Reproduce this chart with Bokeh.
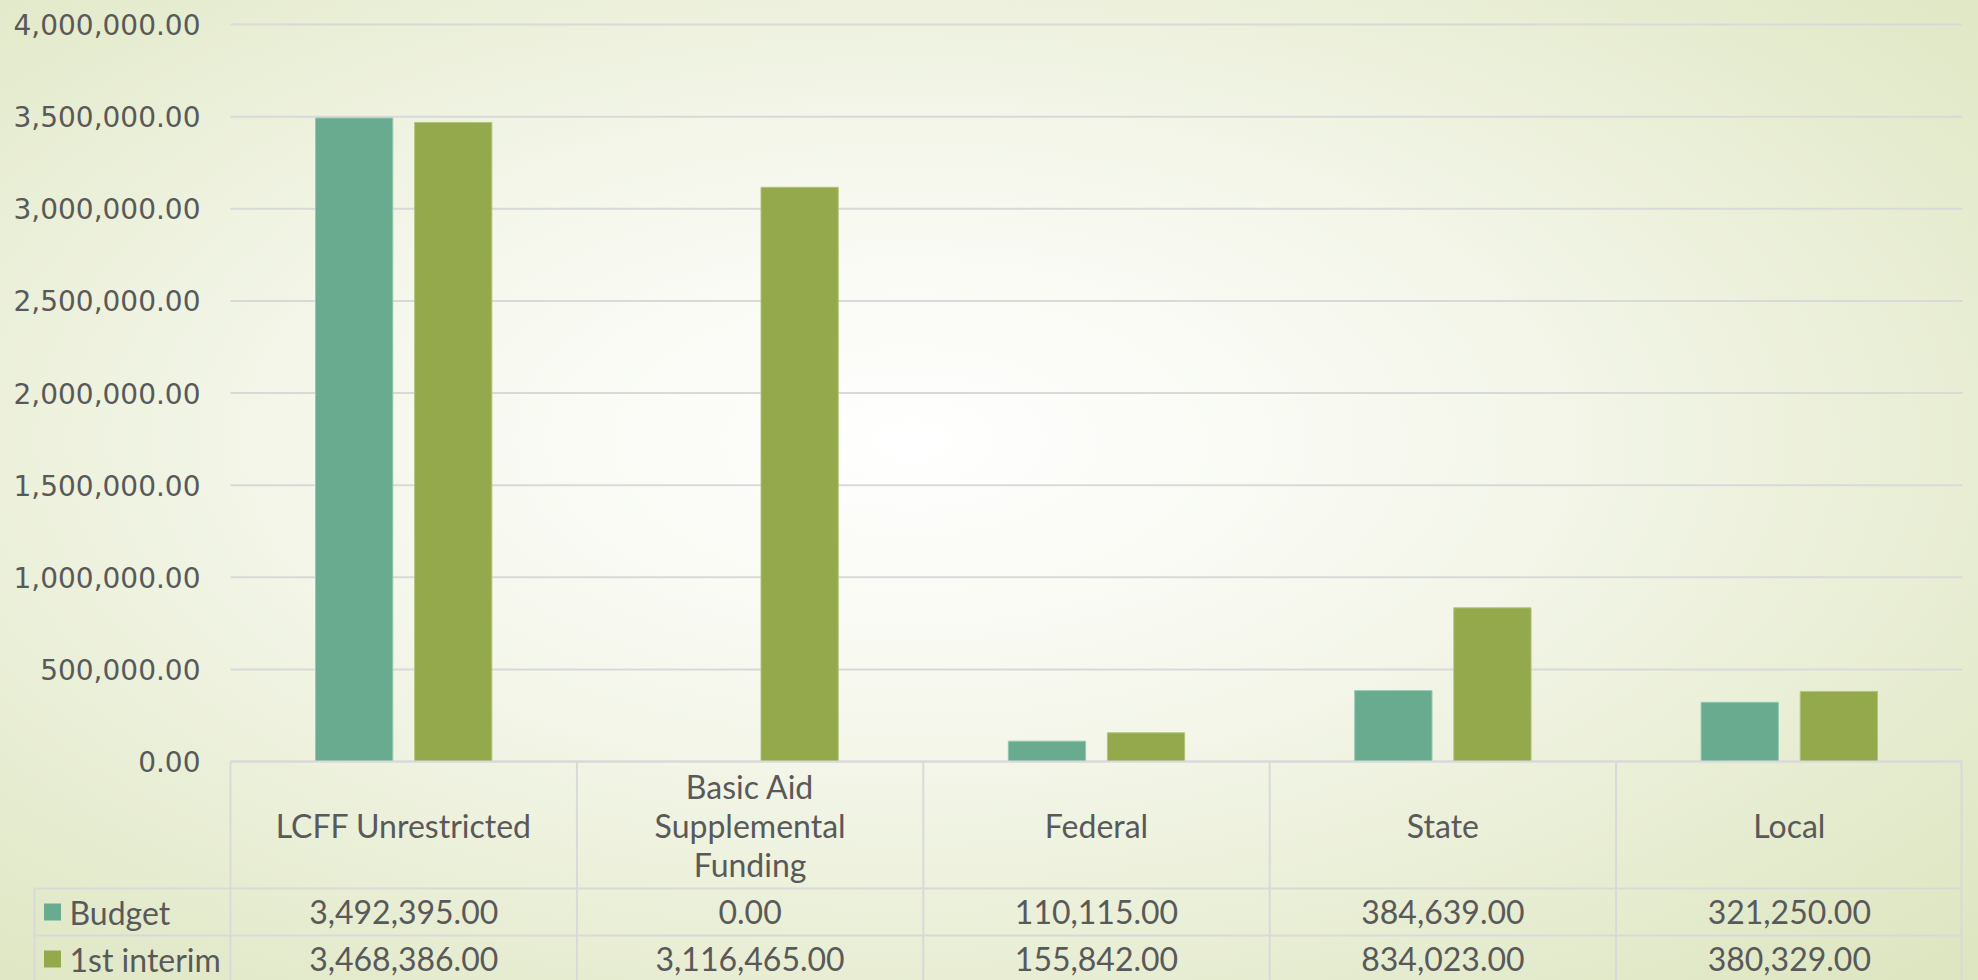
from bokeh.plotting import figure
from bokeh.layouts import column
from bokeh.models import Range1d, ColumnDataSource, NumeralTickFormatter, FixedTicker, LinearAxis
from bokeh.transform import dodge
from bokeh.core.properties import value
from bokeh.embed import file_html
from bokeh.resources import INLINE

# ---- data ----
categories = ["LCFF Unrestricted", "Basic Aid\nSupplemental\nFunding", "Federal", "State", "Local"]
series = ["Budget", "1st interim"]
budget = [3492395.00, 0.00, 110115.00, 384639.00, 321250.00]
interim = [3468386.00, 3116465.00, 155842.00, 834023.00, 380329.00]
y_ticks = [0, 500000, 1000000, 1500000, 2000000, 2500000, 3000000, 3500000, 4000000]
colors = ["#69ab8f", "#93a94c"]
edge_colors = ["#93c6b0", "#b2c47c"]

TXT = "#595959"
GRID = "#d9d9d9"
FONT = "Lato"

W, H = 1978, 980
# pixel layout of the slide
PLOT_L, PLOT_R = 230, 1962      # plot area / table category columns
LEG_L = 34                      # left edge of legend column
Y0_PX, YTOP_PX = 761, 24        # pixel rows of value 0 and of the top tick
ncat = len(categories)
unit = (PLOT_R - PLOT_L) / ncat
ymax = y_ticks[-1]
per_px = ymax / (Y0_PX - YTOP_PX)

src = ColumnDataSource(dict(xc=[i + 0.5 for i in range(ncat)], budget=budget, interim=interim))

p = figure(width=W, height=H,
           x_range=Range1d(-PLOT_L / unit, ncat + (W - PLOT_R) / unit),
           y_range=Range1d(-(H - Y0_PX) * per_px, ymax + YTOP_PX * per_px),
           output_backend="svg", toolbar_location=None,
           x_axis_location=None, y_axis_location=None,
           min_border_left=0, min_border_right=0, min_border_top=0, min_border_bottom=0,
           background_fill_color=None, border_fill_color=None, outline_line_color=None)
p.grid.visible = False

# table coordinate system: pixels below the zero line
p.extra_y_ranges = {"table": Range1d(H - Y0_PX, -Y0_PX)}

# gridlines of the value axis (over the plot area only)
p.segment(x0=[0] * len(y_ticks), x1=[ncat] * len(y_ticks), y0=y_ticks, y1=y_ticks,
          line_color=GRID, line_width=2)

# value axis placed at the left edge of the plot area
ax = LinearAxis(fixed_location=0, ticker=FixedTicker(ticks=y_ticks),
                formatter=NumeralTickFormatter(format="0,0.00"))
ax.axis_line_color = None
ax.major_tick_line_color = None
ax.minor_tick_line_color = None
ax.major_tick_out = 0
ax.major_tick_in = 0
ax.major_label_standoff = 30
ax.major_label_text_font = "DejaVu Sans"
ax.major_label_text_font_size = "28px"
ax.major_label_text_color = TXT
p.add_layout(ax, "left")

# bars
p.vbar(x=dodge("xc", -0.143), top="budget", width=0.223, source=src,
       fill_color=colors[0], line_color=edge_colors[0], line_width=1)
p.vbar(x=dodge("xc", 0.143), top="interim", width=0.223, source=src,
       fill_color=colors[1], line_color=edge_colors[1], line_width=1)

# ---- data table ----
leg_x = -(PLOT_L - LEG_L) / unit
rx = ncat - 1.0 / unit
hdr_y, row_y = 63.5, [150.5, 197.5]
T = dict(y_range_name="table")
p.segment(x0=[0, leg_x, leg_x], y0=[0, 127, 174], x1=[rx, rx, rx], y1=[0, 127, 174],
          line_color=GRID, line_width=2, **T)
vx = [float(i) for i in range(ncat)] + [rx, leg_x]
vy0 = [0] * ncat + [0, 127]
p.segment(x0=vx, y0=vy0, x1=vx, y1=[H - Y0_PX] * len(vx), line_color=GRID, line_width=2, **T)

xs = [i + 0.5 for i in range(ncat)]
p.text(x=xs, y=[hdr_y] * ncat, text=categories, text_align="center", text_baseline="middle",
       text_font=value(FONT), text_font_size="32px", text_color=TXT, text_line_height=1.0, **T)
for k, vals in enumerate([budget, interim]):
    p.text(x=xs, y=[row_y[k]] * ncat, text=[f"{v:,.2f}" for v in vals],
           text_align="center", text_baseline="middle",
           text_font=value(FONT), text_font_size="32px", text_color=TXT, **T)
    p.scatter(x=[leg_x + 18 / unit], y=[row_y[k]], marker="square", size=17,
              fill_color=colors[k], line_color=None, **T)
    p.text(x=[leg_x + 35 / unit], y=[row_y[k]], text=[series[k]],
           text_align="left", text_baseline="middle",
           text_font=value(FONT), text_font_size="32px", text_color=TXT, **T)

layout = column(p, styles={
    "background": "radial-gradient(ellipse at 46% 45%, #ffffff 0%, #f6f8ee 35%, #e6ecd0 75%, #dce5bf 100%)"
})

open("out.html", "w").write(file_html(layout, INLINE))
